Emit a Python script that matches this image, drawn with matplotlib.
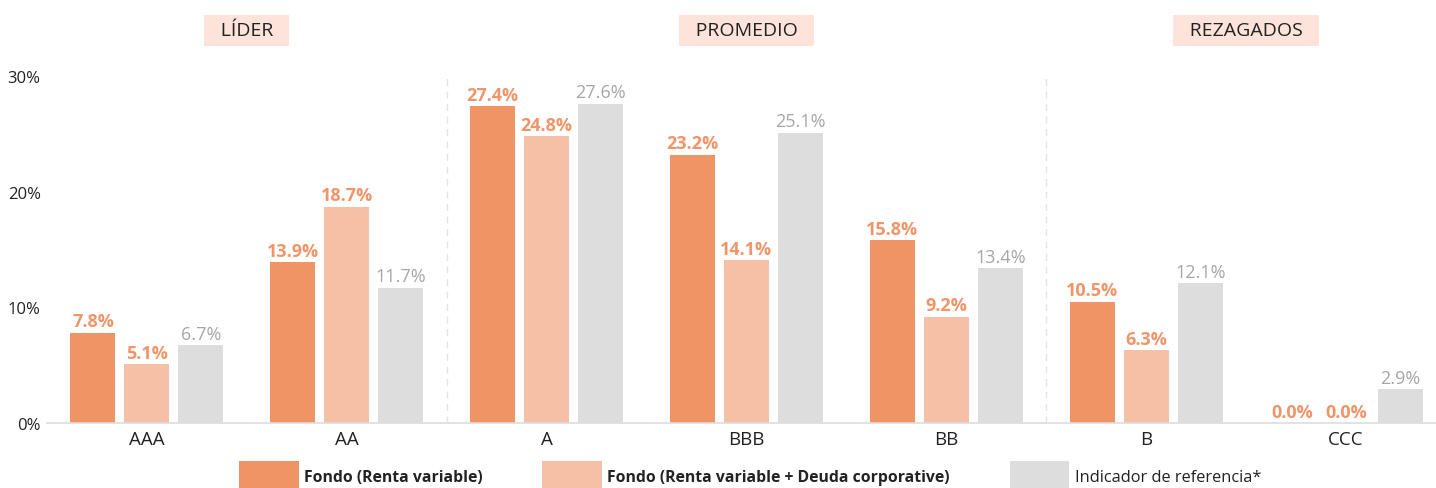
import numpy as np
import matplotlib
matplotlib.use("Agg")
from matplotlib import pyplot as plt

plt.rcParams['font.family'] = ['Open Sans', 'DejaVu Sans']

categories = ['AAA', 'AA', 'A', 'BBB', 'BB', 'B', 'CCC']
fondo_rv     = [7.8, 13.9, 27.4, 23.2, 15.8, 10.5, 0.0]
fondo_rv_dc  = [5.1, 18.7, 24.8, 14.1, 9.2, 6.3, 0.0]
indicador    = [6.7, 11.7, 27.6, 25.1, 13.4, 12.1, 2.9]
series_names = ['Fondo (Renta variable)', 'Fondo (Renta variable + Deuda corporative)',
                'Indicador de referencia*']
yticks       = [0, 10, 20, 30]
groups       = ['LÍDER', 'PROMEDIO', 'REZAGADOS']
group_pos    = [0.5, 3, 5.5]
separators   = [1.5, 4.5]

colors    = ['#ef9565', '#f5c0a5', '#dddddd']
lbl_color = ['#f0956a', '#f0956a', '#a6a6a6']
lbl_bold  = ['bold', 'bold', 'normal']
leg_size  = [11.3, 11.3, 11.8]

fig = plt.figure(figsize=(14.36, 4.89), dpi=100)
ax = fig.add_axes([47/1436, 1-424/489, 1-47/1436, (424-73.5)/489])

x = np.arange(len(categories))
width = 0.225
offs = [-0.27, 0, 0.27]
handles = []
for i, vals in enumerate([fondo_rv, fondo_rv_dc, indicador]):
    b = ax.bar(x + offs[i], vals, width, color=colors[i], label=series_names[i])
    handles.append(b)
    for xi, v in zip(x, vals):
        ax.text(xi + offs[i], v + 0.2, f'{v:.1f}%', ha='center', va='bottom',
                fontsize=13, color=lbl_color[i], fontweight=lbl_bold[i])

ax.set_xlim(-0.5, 6.45)
ax.set_ylim(0, 30.3)
ax.set_yticks(yticks)
ax.set_yticklabels([f'{t}%' for t in yticks])
ax.set_xticks(x)
ax.set_xticklabels(categories, fontsize=13.5)
ax.tick_params(axis='y', length=0, pad=4.5, labelsize=12, colors='#222222')
ax.tick_params(axis='x', length=0, pad=5, colors='#222222')
for s in ['top', 'right', 'left']:
    ax.spines[s].set_visible(False)
ax.spines['bottom'].set_color('#dddddd')
ax.spines['bottom'].set_linewidth(1.2)

for s in separators:
    ax.axvline(s, color='#e3e3e3', linestyle=(0, (5, 4)), linewidth=1)

for g, p in zip(groups, group_pos):
    ax.text(p, 1.12, '\u2002' + g + '\u2002', transform=ax.get_xaxis_transform(),
            ha='center', va='center', fontsize=14, color='#222222',
            bbox=dict(boxstyle='square,pad=0.33', fc='#fde3d9', ec='none'))

leg = fig.legend(handles=handles, loc='center', bbox_to_anchor=(750/1436, 1-477/489),
                 ncol=3, frameon=False, fontsize=11.3, handlelength=3.8, handleheight=2.5,
                 handletextpad=0.35, columnspacing=3.8)
for t, w, fs in zip(leg.get_texts(), lbl_bold, leg_size):
    t.set_fontweight(w)
    t.set_fontsize(fs)
    t.set_color('#222222')

fig.savefig('out.png', dpi=100)
